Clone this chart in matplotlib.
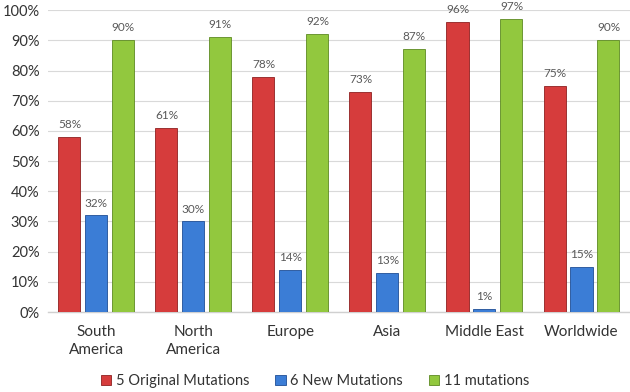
import matplotlib
matplotlib.use("Agg")
import matplotlib.pyplot as plt
import numpy as np

categories = ["South\nAmerica", "North\nAmerica", "Europe", "Asia", "Middle East", "Worldwide"]
series_names = ["5 Original Mutations", "6 New Mutations", "11 mutations"]
original = [58, 61, 78, 73, 96, 75]
new = [32, 30, 14, 13, 1, 15]
eleven = [90, 91, 92, 87, 97, 90]
yticks = [0, 10, 20, 30, 40, 50, 60, 70, 80, 90, 100]

plt.rcParams['font.family'] = ['Lato', 'DejaVu Sans']

colors = ["#d63c3c", "#3b7dd6", "#92c83e"]
edges = ["#8f2020", "#1f4f96", "#5d8a22"]

fig = plt.figure(figsize=(6.3, 3.92), dpi=100)
ax = fig.add_axes([0.076, 0.204, 0.924, 0.77])

x = np.arange(len(categories))
w = 0.227
step = 0.278
for i, (vals, c, e, name) in enumerate(zip([original, new, eleven], colors, edges, series_names)):
    xs = x + (i - 1) * step
    ax.bar(xs, vals, width=w, color=c, edgecolor=e, linewidth=0.6, label=name, zorder=3)
    for xi, v in zip(xs, vals):
        ax.text(xi, v + 2.3, f"{v}%", ha="center", va="bottom", fontsize=8.5, color="#595959", zorder=4)

ax.set_xlim(-0.5, len(categories) - 0.5)
ax.set_ylim(0, 100)
ax.set_yticks(yticks)
ax.set_yticklabels([f"{t}%" for t in yticks], fontsize=10.5, color="#333333")
ax.set_xticks(x)
ax.set_xticklabels(categories, fontsize=11, color="#333333", linespacing=1.45)
ax.tick_params(axis="x", length=0, pad=9)
ax.tick_params(axis="y", length=0, pad=6)
ax.yaxis.grid(True, color="#d9d9d9", linewidth=0.8, zorder=0)
ax.set_axisbelow(True)
for s in ["left", "right", "top"]:
    ax.spines[s].set_visible(False)
ax.spines["bottom"].set_color("#d0d0d0")
ax.spines["bottom"].set_linewidth(1.0)

fig.legend(loc="center", bbox_to_anchor=(0.5, 0.028), ncol=3, frameon=False,
           fontsize=10.5, handlelength=0.7, handleheight=0.7, handletextpad=0.3,
           columnspacing=1.8, labelcolor="#333333")

fig.savefig("out.png", dpi=100)
